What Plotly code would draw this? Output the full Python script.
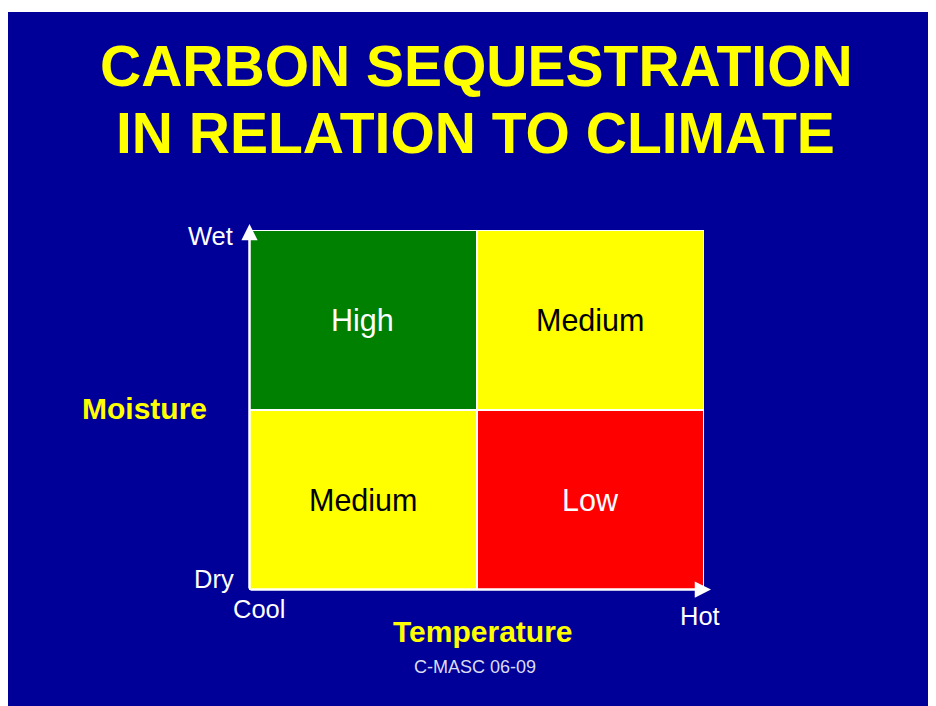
import plotly.graph_objects as go

# Data
temperature = ["Cool", "Hot"]          # x categories
moisture = ["Dry", "Wet"]              # y categories
# Carbon sequestration level: 1 = Low, 2 = Medium, 3 = High
levels = [[2, 1],   # Dry: Cool, Hot
          [3, 2]]   # Wet: Cool, Hot
labels = [["Medium", "Low"],
          ["High", "Medium"]]
label_colors = {1: "white", 2: "black", 3: "white"}

title_lines = ["CARBON SEQUESTRATION", "IN RELATION TO CLIMATE"]
x_title = "Temperature"
y_title = "Moisture"
credit = "C-MASC 06-09"

FONT = "Arial, Liberation Sans, sans-serif"
BLUE = "#000099"
YELLOW = "#ffff00"

OFF = 8                     # page body margin
W, H = 928, 698
# plot area in page coords: x 249..704, y 230..590
L, T = 249 - OFF, 230 - OFF
R, B = W - (704 - OFF), H - (590 - OFF)
PW, PH = W - L - R, H - T - B


def px(xp):   # page x -> paper
    return (xp - OFF - L) / PW


def py(yp):   # page y -> paper
    return (H - B - (yp - OFF)) / PH


fig = go.Figure()
fig.add_trace(go.Heatmap(
    x=temperature, y=moisture, z=levels,
    zmin=1, zmax=3,
    colorscale=[[0, "#ff0000"], [0.5, "#ffff00"], [1, "#008000"]],
    showscale=False, xgap=2, ygap=2, hoverinfo="skip",
))

annotations = []
for i, yv in enumerate(moisture):
    for j, xv in enumerate(temperature):
        annotations.append(dict(
            x=xv, y=yv, xref="x", yref="y", text=labels[i][j], showarrow=False,
            font=dict(family=FONT, size=30.5, color=label_colors[levels[i][j]]),
        ))


def lab(x, y, text, font, xanchor="center"):
    return dict(x=px(x), y=py(y), xref="paper", yref="paper", text=text,
                showarrow=False, xanchor=xanchor, yanchor="middle", font=font)


title_font = dict(family=FONT, size=57, color=YELLOW, weight="bold")
annotations.append(lab(476, 66, title_lines[0], title_font))
annotations.append(lab(475, 133, title_lines[1], title_font))

end_font = dict(family=FONT, size=25.5, color="white")
annotations.append(lab(235, 236, moisture[1], end_font, "right"))
annotations.append(lab(236, 579, moisture[0], end_font, "right"))
annotations.append(lab(258.5, 609, temperature[0], end_font))
annotations.append(lab(700, 616, temperature[1], end_font))

axis_font = dict(family=FONT, size=30, color=YELLOW, weight="bold")
annotations.append(lab(482.5, 631, x_title, axis_font))
annotations.append(lab(144.5, 408, y_title, axis_font))
annotations.append(lab(474.5, 666.5, credit, dict(family=FONT, size=18, color="#dcdcf0")))

# Axis arrows
annotations.append(dict(x=px(249.5), y=py(224), xref="paper", yref="paper", text="",
                        showarrow=True, ax=0, ay=366, axref="pixel", ayref="pixel",
                        arrowhead=2, arrowsize=1.3, arrowwidth=2.5, arrowcolor="white"))
annotations.append(dict(x=px(711), y=py(589.5), xref="paper", yref="paper", text="",
                        showarrow=True, ax=-462, ay=0, axref="pixel", ayref="pixel",
                        arrowhead=2, arrowsize=1.3, arrowwidth=2.5, arrowcolor="white"))

shapes = [
    dict(type="rect", xref="paper", yref="paper", x0=px(6), x1=px(940), y0=py(12), y1=py(6),
         fillcolor="white", line=dict(width=0), layer="above"),
]

fig.update_layout(
    width=W, height=H,
    margin=dict(l=L, r=R, t=T, b=B),
    paper_bgcolor=BLUE, plot_bgcolor="white",
    xaxis=dict(range=[-0.5, 1.5], showticklabels=False, showgrid=False, zeroline=False,
               ticks="", fixedrange=True),
    yaxis=dict(range=[-0.5, 1.5], showticklabels=False, showgrid=False, zeroline=False,
               ticks="", fixedrange=True),
    annotations=annotations, shapes=shapes, showlegend=False,
)

fig.write_html("out.html", config={"displayModeBar": False})
